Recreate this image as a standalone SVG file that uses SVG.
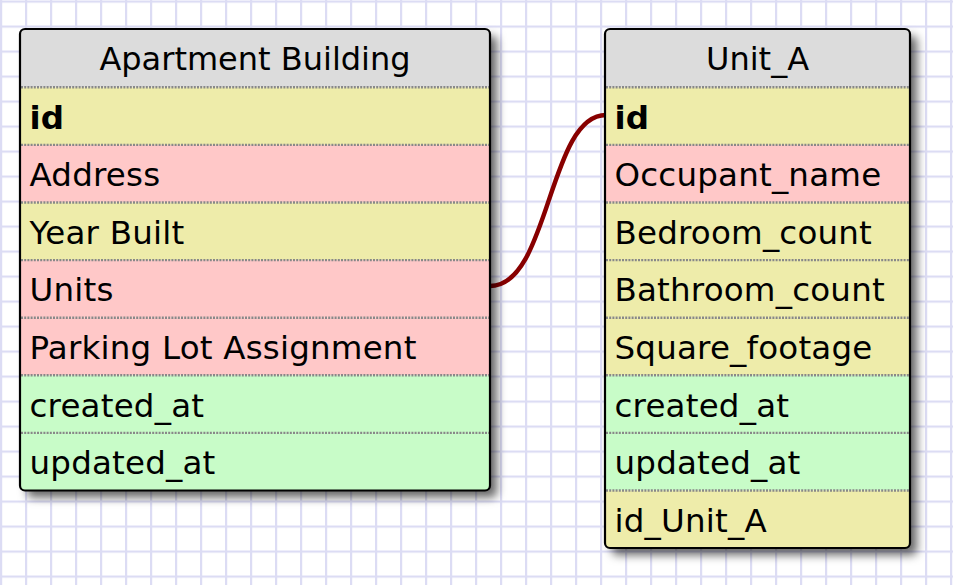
<svg xmlns="http://www.w3.org/2000/svg" width="953" height="585" viewBox="0 0 953 585">
<defs>
<pattern id="grid" x="0" y="0.5" width="25" height="25" patternUnits="userSpaceOnUse">
<rect width="25" height="25" fill="#ffffff"/>
<rect x="0" y="0" width="2.2" height="25" fill="#dcdcf4"/>
<rect x="0" y="0" width="25" height="2.2" fill="#dcdcf4"/>
</pattern>
<filter id="shadow" x="-10%" y="-10%" width="130%" height="130%">
<feDropShadow dx="7" dy="7" stdDeviation="5" flood-color="#000" flood-opacity="0.6"/>
</filter>
<clipPath id="clipA"><rect x="20" y="29" width="470" height="461.5" rx="5"/></clipPath>
<clipPath id="clipB"><rect x="605" y="29" width="305" height="519" rx="5"/></clipPath>
</defs>
<style>
text{font-family:"DejaVu Sans","Verdana",sans-serif;font-size:32.5px;letter-spacing:0.2px;fill:#000}
.h{text-anchor:middle;font-size:32px;letter-spacing:0}
.b{font-weight:bold}
.hd{fill:#dcdcdc}
.y{fill:#eeecaa}
.p{fill:#ffc8c8}
.g{fill:#c8fcc8}
.sep{stroke:#888888;stroke-width:2.4;stroke-dasharray:2 1.2}
.frame{fill:none;stroke:#000;stroke-width:2.2}
.conn{fill:none;stroke:#880000;stroke-width:4.5}
</style>
<rect width="953" height="585" fill="url(#grid)"/>
<g id="connectors">
<path class="conn" d="M490,286 C550,286 548,115 606,115"/>
</g>
<g id="apartment_building">
<rect x="20" y="29" width="470" height="461.5" rx="5" fill="#fff" filter="url(#shadow)"/>
<g clip-path="url(#clipA)">
<rect class="hd" x="20" y="29" width="470" height="58.3"/>
<rect class="y" x="20" y="87.3" width="470" height="57.6"/>
<rect class="p" x="20" y="144.9" width="470" height="57.6"/>
<rect class="y" x="20" y="202.5" width="470" height="57.6"/>
<rect class="p" x="20" y="260.1" width="470" height="57.6"/>
<rect class="p" x="20" y="317.7" width="470" height="57.6"/>
<rect class="g" x="20" y="375.3" width="470" height="57.6"/>
<rect class="g" x="20" y="432.9" width="470" height="57.6"/>
</g>
<line class="sep" x1="21" y1="87.3" x2="489" y2="87.3"/>
<line class="sep" x1="21" y1="144.9" x2="489" y2="144.9"/>
<line class="sep" x1="21" y1="202.5" x2="489" y2="202.5"/>
<line class="sep" x1="21" y1="260.1" x2="489" y2="260.1"/>
<line class="sep" x1="21" y1="317.7" x2="489" y2="317.7"/>
<line class="sep" x1="21" y1="375.3" x2="489" y2="375.3"/>
<line class="sep" x1="21" y1="432.9" x2="489" y2="432.9"/>
<rect class="frame" x="20" y="29" width="470" height="461.5" rx="5"/>
<text class="h" x="255" y="70">Apartment Building</text>
<text class="b" x="29.5" y="128.5">id</text>
<text x="29.5" y="186">Address</text>
<text x="29.5" y="243.5">Year Built</text>
<text x="29.5" y="301">Units</text>
<text x="29.5" y="359">Parking Lot Assignment</text>
<text x="29.5" y="416.5">created_at</text>
<text x="29.5" y="474">updated_at</text>
</g>
<g id="unit_a">
<rect x="605" y="29" width="305" height="519" rx="5" fill="#fff" filter="url(#shadow)"/>
<g clip-path="url(#clipB)">
<rect class="hd" x="605" y="29" width="305" height="58.3"/>
<rect class="y" x="605" y="87.3" width="305" height="57.6"/>
<rect class="p" x="605" y="144.9" width="305" height="57.6"/>
<rect class="y" x="605" y="202.5" width="305" height="57.6"/>
<rect class="y" x="605" y="260.1" width="305" height="57.6"/>
<rect class="y" x="605" y="317.7" width="305" height="57.6"/>
<rect class="g" x="605" y="375.3" width="305" height="57.6"/>
<rect class="g" x="605" y="432.9" width="305" height="57.6"/>
<rect class="y" x="605" y="490.5" width="305" height="57.6"/>
</g>
<line class="sep" x1="606" y1="87.3" x2="909" y2="87.3"/>
<line class="sep" x1="606" y1="144.9" x2="909" y2="144.9"/>
<line class="sep" x1="606" y1="202.5" x2="909" y2="202.5"/>
<line class="sep" x1="606" y1="260.1" x2="909" y2="260.1"/>
<line class="sep" x1="606" y1="317.7" x2="909" y2="317.7"/>
<line class="sep" x1="606" y1="375.3" x2="909" y2="375.3"/>
<line class="sep" x1="606" y1="432.9" x2="909" y2="432.9"/>
<line class="sep" x1="606" y1="490.5" x2="909" y2="490.5"/>
<rect class="frame" x="605" y="29" width="305" height="519" rx="5"/>
<text class="h" x="757.5" y="70">Unit_A</text>
<text class="b" x="614.5" y="128.5">id</text>
<text x="614.5" y="186">Occupant_name</text>
<text x="614.5" y="243.5">Bedroom_count</text>
<text x="614.5" y="301">Bathroom_count</text>
<text x="614.5" y="359">Square_footage</text>
<text x="614.5" y="416.5">created_at</text>
<text x="614.5" y="474">updated_at</text>
<text x="614.5" y="531.5">id_Unit_A</text>
</g>
</svg>
